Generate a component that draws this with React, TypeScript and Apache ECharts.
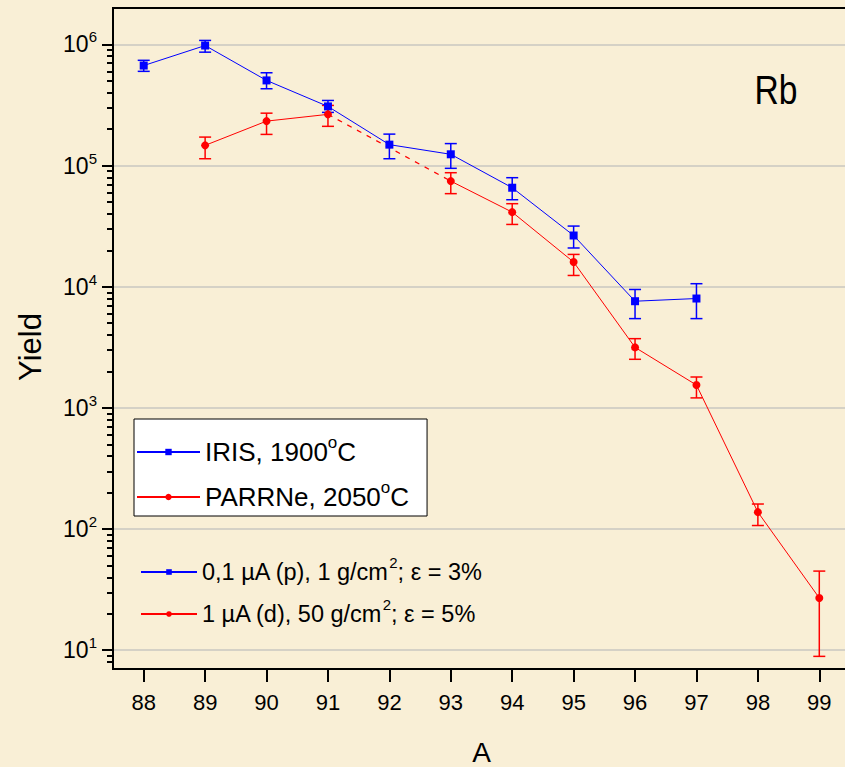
import React, { useEffect, useRef } from 'react';
import * as echarts from 'echarts';

// ---- data ----
const xTicks = [88, 89, 90, 91, 92, 93, 94, 95, 96, 97, 98, 99];
const yDecades = [10, 100, 1000, 10000, 100000, 1000000];
const yMinorTicks = [
  8, 9,
  20, 30, 40, 50, 60, 70, 80, 90,
  200, 300, 400, 500, 600, 700, 800, 900,
  2000, 3000, 4000, 5000, 6000, 7000, 8000, 9000,
  20000, 30000, 40000, 50000, 60000, 70000, 80000, 90000,
  200000, 300000, 400000, 500000, 600000, 700000, 800000, 900000,
];

const irisA = [88, 89, 90, 91, 92, 93, 94, 95, 96, 97];
const irisYield = [6.7e5, 9.8e5, 5.05e5, 3.08e5, 1.49e5, 1.24e5, 6.57e4, 2.65e4, 7.6e3, 8.0e3];
const irisLow = [6.0e5, 8.64e5, 4.31e5, 2.75e5, 1.14e5, 9.5e4, 5.23e4, 2.09e4, 5.46e3, 5.46e3];
const irisHigh = [7.4e5, 1.08e6, 5.84e5, 3.45e5, 1.82e5, 1.52e5, 7.95e4, 3.17e4, 9.5e3, 1.06e4];

const parrneA = [89, 90, 91, 93, 94, 95, 96, 97, 98, 99];
const parrneYield = [1.47e5, 2.33e5, 2.65e5, 7.45e4, 4.13e4, 1.6e4, 3.16e3, 1.545e3, 138, 27];
const parrneLow = [1.14e5, 1.81e5, 2.11e5, 5.87e4, 3.27e4, 1.24e4, 2.52e3, 1.21e3, 107, 8.9];
const parrneHigh = [1.72e5, 2.71e5, 3.14e5, 8.74e4, 4.85e4, 1.85e4, 3.73e3, 1.8e3, 161, 45];

const seriesNames = ['IRIS, 1900°C', 'PARRNe, 2050°C'];
const beamNames = ['0,1 µA (p), 1 g/cm²; ε = 3%', '1 µA (d), 50 g/cm²; ε = 5%'];
const legendRich: Record<string, string> = {
  'IRIS, 1900°C': '{n|IRIS, 1900}{s|o}{n|C}',
  'PARRNe, 2050°C': '{n|PARRNe, 2050}{s|o}{n|C}',
  '0,1 µA (p), 1 g/cm²; ε = 3%': '{n|0,1 µA (p), 1 g/cm}{s|2}{n|; ε = 3%}',
  '1 µA (d), 50 g/cm²; ε = 5%': '{n|1 µA (d), 50 g/cm}{s|2}{n|; ε = 5%}',
};

const BLUE = '#0000FF';
const RED = '#FF0000';
const BG = '#F9EFD6';
const SANS = "'Liberation Sans', Arial, sans-serif";

function errorSeries(name: string, xs: number[], lo: number[], hi: number[], color: string) {
  return {
    name,
    type: 'custom',
    z: 1,
    clip: false,
    encode: { x: 0, y: [1, 2] },
    data: xs.map((x, i) => [x, lo[i], hi[i]]),
    renderItem: (params: any, api: any) => {
      const x = api.value(0);
      const pLo = api.coord([x, api.value(1)]);
      const pHi = api.coord([x, api.value(2)]);
      const w = 6;
      const style = { stroke: color, lineWidth: 1.5 };
      return {
        type: 'group',
        children: [
          { type: 'line', shape: { x1: pLo[0], y1: pLo[1], x2: pHi[0], y2: pHi[1] }, style },
          { type: 'line', shape: { x1: pLo[0] - w, y1: pLo[1], x2: pLo[0] + w, y2: pLo[1] }, style },
          { type: 'line', shape: { x1: pHi[0] - w, y1: pHi[1], x2: pHi[0] + w, y2: pHi[1] }, style },
        ],
      };
    },
  };
}

function withGaps(xs: number[], ys: number[]) {
  const out: any[] = [];
  xs.forEach((x, i) => {
    if (i > 0 && x - xs[i - 1] > 1) out.push([(x + xs[i - 1]) / 2, '-']);
    out.push([x, ys[i]]);
  });
  return out;
}

function gapBridges(xs: number[], ys: number[]) {
  const out: any[] = [];
  xs.forEach((x, i) => {
    if (i > 0 && x - xs[i - 1] > 1) {
      out.push([xs[i - 1], ys[i - 1]]);
      out.push([x, ys[i]]);
    }
  });
  return out;
}

export default function App() {
  const ref = useRef<HTMLDivElement>(null);
  useEffect(() => {
    if (!ref.current) return;
    const chart = echarts.init(ref.current, undefined, { renderer: 'svg' });
    const option: any = {
      animation: false,
      backgroundColor: BG,
      grid: {
        left: 113, top: 8, right: 0, bottom: 98,
        outerBoundsMode: 'none', containLabel: false,
        show: true, borderColor: '#000', borderWidth: 2, backgroundColor: 'transparent',
      },
      xAxis: {
        type: 'value', min: 87.5, max: 99.5,
        name: 'A', nameLocation: 'middle', nameGap: 69,
        nameTextStyle: { fontFamily: SANS, fontSize: 28, color: '#000' },
        axisLine: { lineStyle: { color: '#000', width: 2 } },
        axisTick: { customValues: xTicks, length: 13, lineStyle: { color: '#000', width: 2 } },
        axisLabel: { customValues: xTicks, margin: 22, fontFamily: SANS, fontSize: 22, color: '#000' },
        splitLine: { show: false },
      },
      yAxis: [
        {
          type: 'log', logBase: 10, min: 7, max: 2e6, position: 'left',
          name: 'Yield', nameLocation: 'middle', nameGap: 67,
          nameTextStyle: { fontFamily: SANS, fontSize: 31, color: '#000', padding: [0, 17, 0, 0] },
          axisLine: { show: true, lineStyle: { color: '#000', width: 2 } },
          axisTick: { customValues: yDecades, length: 11, lineStyle: { color: '#000', width: 2 } },
          axisLabel: {
            customValues: yDecades, margin: 16,
            formatter: (v: number) => `{b|10}{s|${Math.round(Math.log10(v))}}`,
            rich: {
              b: { fontFamily: SANS, fontSize: 23, color: '#000', lineHeight: 30 },
              s: { fontFamily: SANS, fontSize: 15, color: '#000', verticalAlign: 'top', lineHeight: 15 },
            },
          },
          splitLine: { show: true, lineStyle: { color: '#C9C7C0', width: 1.5 } },
        },
        {
          type: 'log', logBase: 10, min: 7, max: 2e6, position: 'left',
          axisLine: { show: false },
          axisTick: { customValues: yMinorTicks, length: 6, lineStyle: { color: '#000', width: 2 } },
          axisLabel: { show: false },
          splitLine: { show: false },
        },
      ],
      legend: [
        {
          orient: 'vertical', left: 134, top: 419,
          data: seriesNames,
          backgroundColor: '#FFFFFF', borderColor: '#000', borderWidth: 1,
          padding: [15, 18, 6, 2], itemGap: 14, itemWidth: 63, itemHeight: 8,
          formatter: (n: string) => legendRich[n] || n,
          textStyle: {
            rich: {
              n: { fontFamily: SANS, fontSize: 26, color: '#000', lineHeight: 36 },
              s: { fontFamily: SANS, fontSize: 17, color: '#000', verticalAlign: 'top', lineHeight: 22 },
            },
          },
          selectedMode: false,
        },
        {
          orient: 'vertical', left: 140, top: 555,
          data: beamNames,
          padding: 0, itemGap: 13, itemWidth: 56, itemHeight: 7,
          formatter: (n: string) => legendRich[n] || n,
          textStyle: {
            rich: {
              n: { fontFamily: SANS, fontSize: 23.5, color: '#000', lineHeight: 34 },
              s: { fontFamily: SANS, fontSize: 15, color: '#000', verticalAlign: 'top', lineHeight: 17 },
            },
          },
          selectedMode: false,
        },
      ],
      graphic: [
        {
          type: 'text', x: 776, y: 90, scaleX: 0.82,
          style: { text: 'Rb', fontFamily: SANS, fontSize: 41, fill: '#000', align: 'center', verticalAlign: 'middle' },
        },
      ],
      series: [
        errorSeries('IRIS err', irisA, irisLow, irisHigh, BLUE),
        errorSeries('PARRNe err', parrneA, parrneLow, parrneHigh, RED),
        {
          name: 'PARRNe bridge', type: 'line', z: 2,
          data: gapBridges(parrneA, parrneYield),
          symbol: 'none',
          lineStyle: { color: RED, width: 1.2, type: [5, 6] },
        },
        {
          name: seriesNames[0], type: 'line', z: 3,
          data: irisA.map((x, i) => [x, irisYield[i]]),
          symbol: 'rect', symbolSize: 8,
          itemStyle: { color: BLUE },
          lineStyle: { color: BLUE, width: 1 },
        },
        {
          name: seriesNames[1], type: 'line', z: 3,
          data: withGaps(parrneA, parrneYield),
          symbol: 'circle', symbolSize: 8,
          itemStyle: { color: RED },
          lineStyle: { color: RED, width: 1 },
        },
        {
          name: beamNames[0], type: 'line', data: [],
          symbol: 'rect', itemStyle: { color: BLUE }, lineStyle: { color: BLUE, width: 1 },
        },
        {
          name: beamNames[1], type: 'line', data: [],
          symbol: 'circle', itemStyle: { color: RED }, lineStyle: { color: RED, width: 1 },
        },
      ],
    };
    chart.setOption(option);
    return () => chart.dispose();
  }, []);
  return (
    <div style={{ position: 'absolute', left: 0, top: 0, width: 845, height: 767, overflow: 'hidden' }}>
      <div ref={ref} style={{ width: 850, height: 767 }} />
    </div>
  );
}
